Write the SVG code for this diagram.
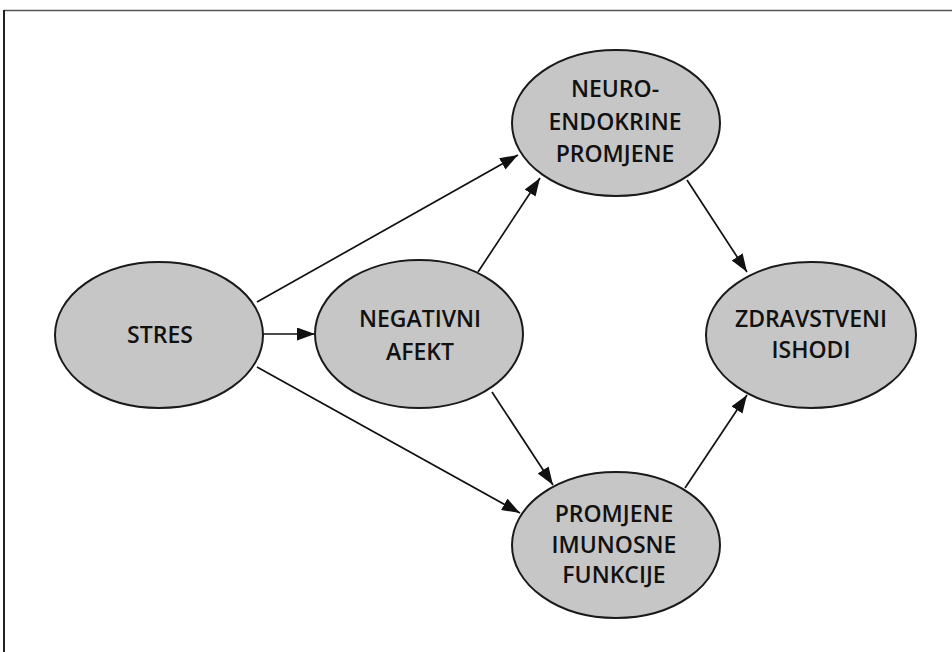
<svg xmlns="http://www.w3.org/2000/svg" width="952" height="652" viewBox="0 0 952 652">
<style>
.node ellipse{fill:#c6c6c6;stroke:#1a1a1a;stroke-width:2}
.node text{font-family:"Open Sans","Noto Sans",sans-serif;font-size:23px;font-weight:600;fill:#111;text-anchor:middle}
.edge{stroke:#111;stroke-width:1.7;fill:none;marker-end:url(#arr)}
</style>
<defs>
<marker id="arr" markerUnits="userSpaceOnUse" markerWidth="19" markerHeight="14" refX="18" refY="6.5" orient="auto">
<path d="M0,0 L18,6.5 L0,13 Z" fill="#111"/>
</marker>
</defs>
<rect width="952" height="652" fill="#fff"/>
<g id="frame">
<line x1="4" y1="10.5" x2="952" y2="10.5" stroke="#555" stroke-width="1.6"/>
<line x1="4" y1="10" x2="4" y2="652" stroke="#222" stroke-width="2"/>
</g>
<g id="connectors">
<line class="edge" x1="257" y1="302" x2="518" y2="155"/>
<line class="edge" x1="263" y1="334" x2="315" y2="334"/>
<line class="edge" x1="257" y1="367" x2="520" y2="513"/>
<line class="edge" x1="478" y1="272" x2="540" y2="178"/>
<line class="edge" x1="492" y1="392" x2="553" y2="485"/>
<line class="edge" x1="687" y1="180" x2="747" y2="272"/>
<line class="edge" x1="685" y1="488" x2="747" y2="395"/>
</g>
<g id="stres" class="node">
<ellipse cx="159" cy="335" rx="104" ry="73"/>
<text x="160" y="343">STRES</text>
</g>
<g id="negativni-afekt" class="node">
<ellipse cx="419" cy="334" rx="104" ry="74"/>
<text x="420" y="327">NEGATIVNI</text>
<text x="420" y="360">AFEKT</text>
</g>
<g id="neuroendokrine" class="node">
<ellipse cx="616" cy="123" rx="104" ry="73"/>
<text x="615" y="97">NEURO-</text>
<text x="615" y="130">ENDOKRINE</text>
<text x="615" y="162">PROMJENE</text>
</g>
<g id="imunosne" class="node">
<ellipse cx="616" cy="545" rx="104" ry="73"/>
<text x="614" y="522">PROMJENE</text>
<text x="614" y="553">IMUNOSNE</text>
<text x="614" y="583">FUNKCIJE</text>
</g>
<g id="zdravstveni" class="node">
<ellipse cx="811" cy="335" rx="105" ry="73"/>
<text x="811" y="327">ZDRAVSTVENI</text>
<text x="811" y="358">ISHODI</text>
</g>
</svg>
